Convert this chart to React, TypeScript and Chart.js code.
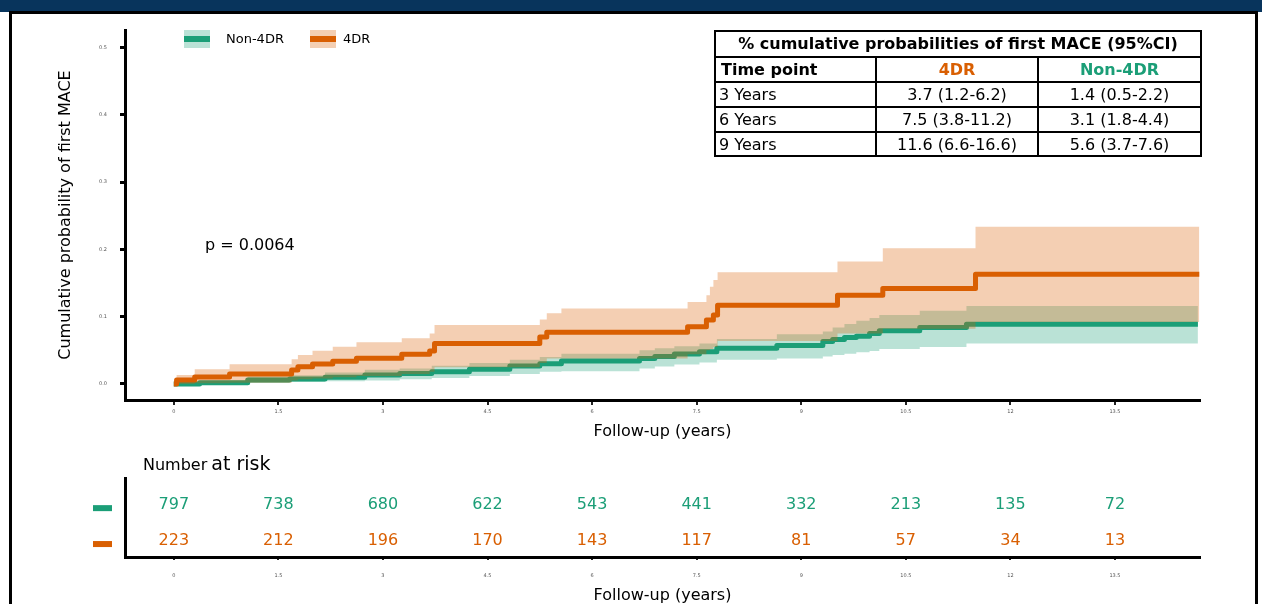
import React, { useEffect, useRef } from "react";
import { Chart, registerables } from "chart.js";

Chart.register(...registerables);

const GREEN = "#1B9E77";
const ORANGE = "#D95F02";
const GREEN_BAND = "rgba(27,158,119,0.3)";
const ORANGE_BAND = "rgba(217,95,2,0.3)";
const FONT = "'DejaVu Sans', Verdana, sans-serif";

// ---- axis ticks ----
const xTicks = [0, 1.5, 3, 4.5, 6, 7.5, 9, 10.5, 12, 13.5];
const xTickLabels = ["0", "1.5", "3", "4.5", "6", "7.5", "9", "10.5", "12", "13.5"];
const yTicks = [0, 0.1, 0.2, 0.3, 0.4, 0.5];
const yTickLabels = ["0.0", "0.1", "0.2", "0.3", "0.4", "0.5"];

// ---- Non-4DR cumulative incidence (estimate + 95% CI) ----
const nonTimes = [0, 0.37, 1.06, 1.66, 2.17, 2.74, 3.24, 3.7, 4.24, 4.82, 5.25, 5.56, 6.68, 6.9, 7.18, 7.54, 7.79, 8.65, 9.31, 9.45, 9.62, 9.79, 9.98, 10.12, 10.7, 11.37, 14.69];
const nonEst = [0, 0.002, 0.006, 0.0074, 0.01, 0.0134, 0.0156, 0.018, 0.022, 0.0267, 0.03, 0.034, 0.038, 0.041, 0.0446, 0.048, 0.053, 0.057, 0.063, 0.066, 0.069, 0.071, 0.075, 0.079, 0.084, 0.0887, 0.0887];
const nonUpper = [0.003, 0.005, 0.011, 0.013, 0.017, 0.021, 0.023, 0.027, 0.031, 0.036, 0.04, 0.045, 0.05, 0.053, 0.056, 0.06, 0.067, 0.074, 0.078, 0.084, 0.089, 0.094, 0.098, 0.1025, 0.109, 0.116, 0.116];
const nonLower = [0, 0, 0.002, 0.003, 0.004, 0.005, 0.007, 0.009, 0.012, 0.015, 0.018, 0.019, 0.023, 0.026, 0.029, 0.032, 0.036, 0.038, 0.041, 0.043, 0.045, 0.047, 0.049, 0.052, 0.055, 0.06, 0.06];

// ---- 4DR cumulative incidence (estimate + 95% CI) ----
const drTimes = [0, 0.04, 0.3, 0.8, 1.69, 1.78, 1.99, 2.28, 2.62, 3.27, 3.67, 3.74, 5.25, 5.35, 5.56, 7.37, 7.64, 7.69, 7.74, 7.8, 9.52, 10.17, 11.5, 14.71];
const drEst = [0, 0.006, 0.0104, 0.0149, 0.0208, 0.0257, 0.0297, 0.0337, 0.0382, 0.0441, 0.049, 0.06, 0.07, 0.077, 0.077, 0.085, 0.095, 0.095, 0.1025, 0.117, 0.132, 0.142, 0.163, 0.163];
const drUpper = [0, 0.0134, 0.0218, 0.0293, 0.0367, 0.0431, 0.0495, 0.0554, 0.062, 0.068, 0.075, 0.0877, 0.096, 0.105, 0.112, 0.122, 0.132, 0.1446, 0.1545, 0.166, 0.182, 0.2016, 0.2337, 0.2337];
const drLower = [0, 0, 0.001, 0.002, 0.005, 0.007, 0.008, 0.01, 0.012, 0.015, 0.018, 0.025, 0.031, 0.038, 0.038, 0.044, 0.05, 0.052, 0.055, 0.064, 0.075, 0.082, 0.092, 0.092];

// ---- number at risk ----
const riskTimes = [0, 1.5, 3, 4.5, 6, 7.5, 9, 10.5, 12, 13.5];
const riskNon = [797, 738, 680, 622, 543, 441, 332, 213, 135, 72];
const risk4DR = [223, 212, 196, 170, 143, 117, 81, 57, 34, 13];

// ---- summary table ----
const tableTitle = "% cumulative probabilities of first MACE (95%CI)";
const tableHeader = ["Time point", "4DR", "Non-4DR"];
const tableTimePoints = ["3 Years", "6 Years", "9 Years"];
const table4DR = ["3.7 (1.2-6.2)", "7.5 (3.8-11.2)", "11.6 (6.6-16.6)"];
const tableNon = ["1.4 (0.5-2.2)", "3.1 (1.8-4.4)", "5.6 (3.7-7.6)"];

const pValueText = "p = 0.0064";

const X_MIN = -0.7;
const X_MAX = 14.72;
const Y_MIN = -0.0238;
const Y_MAX = 0.526;

const pts = (t: number[], v: number[]) => t.map((x, i) => ({ x, y: v[i] }));

const xScaleBase = (height: number, titlePadBottom: number, tickPad: number, tickLen: number) => ({
  type: "linear" as const,
  min: X_MIN,
  max: X_MAX,
  afterBuildTicks: (axis: any) => {
    axis.ticks = xTicks.map((v) => ({ value: v }));
  },
  afterFit: (axis: any) => {
    axis.height = height;
  },
  ticks: {
    autoSkip: false,
    maxRotation: 0,
    padding: tickPad,
    color: "#555",
    font: { family: FONT, size: 5 },
    callback: (v: any) => xTickLabels[xTicks.indexOf(Number(v))],
  },
  grid: {
    display: true,
    drawOnChartArea: false,
    drawTicks: true,
    tickLength: tickLen,
    color: "#222",
    lineWidth: 2,
  },
  border: { display: true, color: "#000", width: 3 },
  title: {
    display: true,
    text: "Follow-up (years)",
    color: "#000",
    font: { family: FONT, size: 16 },
    padding: { top: 0, bottom: titlePadBottom },
  },
});

export default function App() {
  const mainRef = useRef<HTMLCanvasElement>(null);
  const riskRef = useRef<HTMLCanvasElement>(null);

  useEffect(() => {
    const common = { pointRadius: 0, stepped: true as const, borderJoinStyle: "round" as const, borderCapStyle: "butt" as const };
    const main = new Chart(mainRef.current as HTMLCanvasElement, {
      type: "line",
      data: {
        datasets: [
          { ...common, label: "nonLower", data: pts(nonTimes, nonLower), borderWidth: 0, borderColor: "transparent", fill: false, order: 5 },
          { ...common, label: "nonUpper", data: pts(nonTimes, nonUpper), borderWidth: 0, borderColor: "transparent", backgroundColor: GREEN_BAND, fill: "-1", order: 4 },
          { ...common, label: "Non-4DR", data: pts(nonTimes, nonEst), borderWidth: 5, borderColor: GREEN, fill: false, order: 3 },
          { ...common, label: "drLower", data: pts(drTimes, drLower), borderWidth: 0, borderColor: "transparent", fill: false, order: 2 },
          { ...common, label: "drUpper", data: pts(drTimes, drUpper), borderWidth: 0, borderColor: "transparent", backgroundColor: ORANGE_BAND, fill: "-1", order: 1 },
          { ...common, label: "4DR", data: pts(drTimes, drEst), borderWidth: 5, borderColor: ORANGE, fill: false, order: 0 },
        ] as any,
      },
      options: {
        animation: false,
        responsive: false,
        events: [],
        layout: { padding: { top: 30, right: 62, left: 0, bottom: 0 } },
        plugins: { legend: { display: false }, tooltip: { enabled: false } },
        scales: {
          x: xScaleBase(50, 8.4, 4, 5) as any,
          y: {
            type: "linear",
            min: Y_MIN,
            max: Y_MAX,
            afterBuildTicks: (axis: any) => {
              axis.ticks = yTicks.map((v) => ({ value: v }));
            },
            afterFit: (axis: any) => {
              axis.width = 125;
            },
            ticks: {
              padding: 13,
              color: "#555",
              font: { family: FONT, size: 5 },
              callback: (v: any) => yTickLabels[yTicks.indexOf(Math.round(Number(v) * 10) / 10)],
            },
            grid: {
              display: true,
              drawOnChartArea: false,
              drawTicks: true,
              tickLength: 5,
              color: "#000",
              lineWidth: 3,
            },
            border: { display: true, color: "#000", width: 3 },
            title: {
              display: true,
              text: "Cumulative probability of first MACE",
              color: "#000",
              font: { family: FONT, size: 16 },
              padding: { top: 56.4, bottom: 0 },
            },
          },
        },
      },
    });

    const riskRows = [
      { values: riskNon, color: GREEN },
      { values: risk4DR, color: ORANGE },
    ];
    const rowLevels = [1.5, 0.5];
    const riskPlugin = {
      id: "riskNumbers",
      afterDraw(chart: any) {
        const { ctx, scales } = chart;
        const xs = scales.x;
        const ys = scales.y;
        ctx.save();
        ctx.font = `16px ${FONT}`;
        ctx.textAlign = "center";
        ctx.textBaseline = "alphabetic";
        riskRows.forEach((row, r) => {
          const py = ys.getPixelForValue(rowLevels[r]);
          ctx.fillStyle = row.color;
          row.values.forEach((v, i) => {
            ctx.fillText(String(v), xs.getPixelForValue(riskTimes[i]), py + 5.8);
          });
          ctx.fillRect(xs.left - 32, py + 2, 19, 6);
        });
        ctx.restore();
      },
    };

    const risk = new Chart(riskRef.current as HTMLCanvasElement, {
      type: "line",
      data: { datasets: [] },
      options: {
        animation: false,
        responsive: false,
        events: [],
        layout: { padding: { top: 28, right: 62, left: 0, bottom: 0 } },
        plugins: { legend: { display: false }, tooltip: { enabled: false } },
        scales: {
          x: xScaleBase(47, -1.6, 13, 3) as any,
          y: {
            type: "linear",
            min: 0,
            max: 2.2,
            afterFit: (axis: any) => {
              axis.width = 125;
            },
            ticks: { display: false },
            grid: { display: false },
            border: { display: true, color: "#000", width: 3 },
          },
        },
      },
      plugins: [riskPlugin],
    });

    return () => {
      main.destroy();
      risk.destroy();
    };
  }, []);

  const cellText = (text: string, style: React.CSSProperties) => (
    <div
      style={{
        position: "absolute",
        display: "flex",
        alignItems: "center",
        fontSize: 16,
        lineHeight: "16px",
        whiteSpace: "nowrap",
        ...style,
      }}
    >
      {text}
    </div>
  );

  const colL = [716, 877, 1039];
  const colW = [159, 160, 161];
  const rowTop = [58, 83, 108, 133];
  const rowH = 23;

  return (
    <div
      style={{
        position: "fixed",
        left: 0,
        top: 0,
        width: 1262,
        height: 604,
        overflow: "hidden",
        background: "#fff",
        fontFamily: FONT,
        color: "#000",
      }}
    >
      <canvas ref={mainRef} width={1262} height={450} style={{ position: "absolute", left: 0, top: 0 }} />
      <canvas ref={riskRef} width={1262} height={154} style={{ position: "absolute", left: 0, top: 450 }} />

      {/* frame */}
      <div style={{ position: "absolute", left: 0, top: 0, width: 1262, height: 12, background: "#08345C" }} />
      <div style={{ position: "absolute", left: 9, top: 11, width: 1249, height: 3, background: "#000" }} />
      <div style={{ position: "absolute", left: 9, top: 11, width: 3, height: 600, background: "#000" }} />
      <div style={{ position: "absolute", left: 1255, top: 11, width: 3, height: 600, background: "#000" }} />

      {/* legend */}
      <div style={{ position: "absolute", left: 184, top: 30, width: 26, height: 18, background: GREEN_BAND }}>
        <div style={{ position: "absolute", left: 0, top: 6, width: 26, height: 6, background: GREEN }} />
      </div>
      <div style={{ position: "absolute", left: 226, top: 31.7, fontSize: 13, lineHeight: "13px" }}>Non-4DR</div>
      <div style={{ position: "absolute", left: 310, top: 30, width: 26, height: 18, background: ORANGE_BAND }}>
        <div style={{ position: "absolute", left: 0, top: 6, width: 26, height: 6, background: ORANGE }} />
      </div>
      <div style={{ position: "absolute", left: 343, top: 31.7, fontSize: 13, lineHeight: "13px" }}>4DR</div>

      {/* p-value */}
      <div style={{ position: "absolute", left: 205, top: 237, fontSize: 16, lineHeight: "16px" }}>{pValueText}</div>

      {/* summary table */}
      <div style={{ position: "absolute", left: 714, top: 30, width: 488, height: 2, background: "#000" }} />
      {[56, 81, 106, 131, 155].map((t) => (
        <div key={"h" + t} style={{ position: "absolute", left: 714, top: t, width: 488, height: 2, background: "#000" }} />
      ))}
      <div style={{ position: "absolute", left: 714, top: 30, width: 2, height: 127, background: "#000" }} />
      <div style={{ position: "absolute", left: 1200, top: 30, width: 2, height: 127, background: "#000" }} />
      <div style={{ position: "absolute", left: 875, top: 56, width: 2, height: 101, background: "#000" }} />
      <div style={{ position: "absolute", left: 1037, top: 56, width: 2, height: 101, background: "#000" }} />
      {cellText(tableTitle, { left: 716, top: 32, width: 484, height: 24, justifyContent: "center", fontWeight: "bold" })}
      {cellText(tableHeader[0], { left: colL[0] + 5, top: rowTop[0], height: rowH, fontWeight: "bold" })}
      {cellText(tableHeader[1], { left: colL[1], top: rowTop[0], width: colW[1], height: rowH, justifyContent: "center", fontWeight: "bold", color: ORANGE })}
      {cellText(tableHeader[2], { left: colL[2], top: rowTop[0], width: colW[2], height: rowH, justifyContent: "center", fontWeight: "bold", color: GREEN })}
      {tableTimePoints.map((tp, i) => (
        <React.Fragment key={tp}>
          {cellText(tp, { left: colL[0] + 3, top: rowTop[i + 1], height: rowH })}
          {cellText(table4DR[i], { left: colL[1], top: rowTop[i + 1], width: colW[1], height: rowH, justifyContent: "center" })}
          {cellText(tableNon[i], { left: colL[2], top: rowTop[i + 1], width: colW[2], height: rowH, justifyContent: "center" })}
        </React.Fragment>
      ))}

      {/* number at risk heading */}
      <div style={{ position: "absolute", left: 143, top: 452, whiteSpace: "nowrap", display: "flex", alignItems: "baseline" }}>
        <span style={{ fontSize: 16 }}>Number</span>
        <span style={{ fontSize: 19, marginLeft: 4 }}>at risk</span>
      </div>
    </div>
  );
}
